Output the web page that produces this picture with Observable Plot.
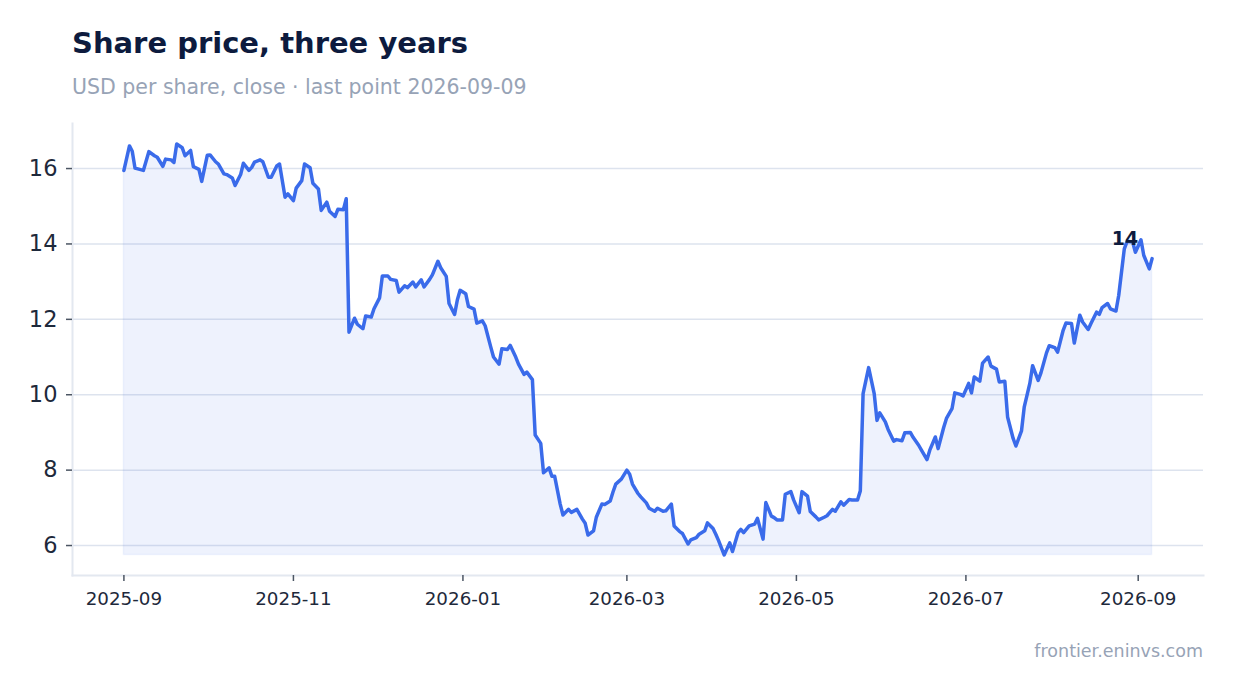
<!DOCTYPE html>
<html>
<head>
<meta charset="utf-8">
<script src="https://cdn.jsdelivr.net/npm/d3@7"></script>
<script src="https://cdn.jsdelivr.net/npm/@observablehq/plot@0.6"></script>
<style>
  html, body { margin: 0; padding: 0; background: #ffffff; }
  body { width: 1234px; height: 693px; position: relative; overflow: hidden; font-family: "DejaVu Sans", sans-serif; }
  #title { position: absolute; left: 72px; top: 29px; font-size: 29px; line-height: 1; font-weight: bold; color: #0d1b3e; white-space: nowrap; }
  #subtitle { position: absolute; left: 72px; top: 77px; font-size: 20.5px; line-height: 1; color: #97a3b6; white-space: nowrap; }
  #chart { position: absolute; left: 0; top: 100px; }
  #caption { position: absolute; right: 31px; top: 643px; font-size: 17.5px; line-height: 1; color: #97a3b6; white-space: nowrap; }
</style>
</head>
<body>
<div id="title">Share price, three years</div>
<div id="subtitle">USD per share, close · last point 2026-09-09</div>
<div id="chart"></div>
<div id="caption">frontier.eninvs.com</div>
<script>
const dates = [
  "2025-09-01","2025-09-03","2025-09-04","2025-09-05","2025-09-07","2025-09-08","2025-09-10","2025-09-12","2025-09-13","2025-09-15",
  "2025-09-16","2025-09-18","2025-09-19","2025-09-20","2025-09-22","2025-09-23","2025-09-25","2025-09-26","2025-09-28","2025-09-29",
  "2025-10-01","2025-10-02","2025-10-04","2025-10-05","2025-10-07","2025-10-08","2025-10-10","2025-10-11","2025-10-13","2025-10-14",
  "2025-10-16","2025-10-17","2025-10-18","2025-10-20","2025-10-21","2025-10-23","2025-10-24","2025-10-26","2025-10-27","2025-10-29","2025-10-30",
  "2025-11-01","2025-11-02","2025-11-04","2025-11-05","2025-11-07","2025-11-08","2025-11-10","2025-11-11","2025-11-13","2025-11-14",
  "2025-11-16","2025-11-17","2025-11-19","2025-11-20","2025-11-21","2025-11-23","2025-11-24","2025-11-26","2025-11-27","2025-11-29","2025-11-30",
  "2025-12-02","2025-12-03","2025-12-05","2025-12-06","2025-12-08","2025-12-09","2025-12-11","2025-12-12","2025-12-14","2025-12-15",
  "2025-12-17","2025-12-18","2025-12-20","2025-12-21","2025-12-23","2025-12-24","2025-12-26","2025-12-27","2025-12-29","2025-12-30","2025-12-31",
  "2026-01-02","2026-01-03","2026-01-05","2026-01-06","2026-01-08","2026-01-09","2026-01-11","2026-01-12","2026-01-14","2026-01-15",
  "2026-01-17","2026-01-18","2026-01-20","2026-01-21","2026-01-23","2026-01-24","2026-01-26","2026-01-27","2026-01-29","2026-01-30",
  "2026-02-01","2026-02-02","2026-02-03","2026-02-05","2026-02-06","2026-02-08","2026-02-09","2026-02-11","2026-02-13","2026-02-14",
  "2026-02-15","2026-02-17","2026-02-18","2026-02-20","2026-02-21","2026-02-23","2026-02-24","2026-02-25","2026-02-27",
  "2026-03-01","2026-03-02","2026-03-03","2026-03-05","2026-03-06","2026-03-08","2026-03-09","2026-03-11","2026-03-12","2026-03-14",
  "2026-03-15","2026-03-17","2026-03-18","2026-03-20","2026-03-21","2026-03-23","2026-03-24","2026-03-26","2026-03-27","2026-03-29","2026-03-30",
  "2026-04-01","2026-04-02","2026-04-03","2026-04-05","2026-04-07","2026-04-08","2026-04-10","2026-04-11","2026-04-12","2026-04-14",
  "2026-04-16","2026-04-17","2026-04-19","2026-04-20","2026-04-22","2026-04-23","2026-04-24","2026-04-26","2026-04-27","2026-04-29","2026-04-30",
  "2026-05-02","2026-05-03","2026-05-05","2026-05-06","2026-05-08","2026-05-09","2026-05-11","2026-05-12","2026-05-14","2026-05-15",
  "2026-05-17","2026-05-18","2026-05-20","2026-05-21","2026-05-23","2026-05-24","2026-05-25","2026-05-27","2026-05-29","2026-05-30","2026-05-31",
  "2026-06-02","2026-06-03","2026-06-05","2026-06-06","2026-06-08","2026-06-09","2026-06-11","2026-06-12","2026-06-14","2026-06-15",
  "2026-06-17","2026-06-18","2026-06-20","2026-06-21","2026-06-23","2026-06-24","2026-06-26","2026-06-27","2026-06-29","2026-06-30",
  "2026-07-02","2026-07-03","2026-07-04","2026-07-06","2026-07-07","2026-07-09","2026-07-10","2026-07-12","2026-07-13","2026-07-15",
  "2026-07-16","2026-07-18","2026-07-19","2026-07-21","2026-07-22","2026-07-24","2026-07-25","2026-07-27","2026-07-28","2026-07-30","2026-07-31",
  "2026-08-02","2026-08-03","2026-08-05","2026-08-06","2026-08-08","2026-08-09","2026-08-11","2026-08-12","2026-08-14","2026-08-15",
  "2026-08-17","2026-08-18","2026-08-19","2026-08-21","2026-08-22","2026-08-24","2026-08-25","2026-08-27","2026-08-28","2026-08-30","2026-08-31",
  "2026-09-02","2026-09-03","2026-09-05","2026-09-06"
];

const closes = [
  15.95,16.60,16.46,16.01,15.97,15.95,16.45,16.34,16.30,16.06,
  16.25,16.23,16.16,16.65,16.55,16.34,16.48,16.05,15.98,15.66,
  16.35,16.36,16.18,16.12,15.86,15.84,15.75,15.55,15.84,16.14,
  15.95,16.03,16.17,16.23,16.18,15.77,15.77,16.07,16.12,15.24,
  15.33,15.15,15.48,15.68,16.12,16.02,15.61,15.46,14.89,15.11,
  14.87,14.73,14.92,14.91,15.20,11.66,12.03,11.87,11.75,12.09,
  12.06,12.28,12.57,13.15,13.15,13.06,13.03,12.72,12.89,12.84,
  12.99,12.86,13.05,12.86,13.06,13.18,13.54,13.37,13.14,12.42,
  12.13,12.52,12.77,12.68,12.34,12.27,11.90,11.96,11.83,11.27,
  11.00,10.81,11.22,11.20,11.31,11.00,10.81,10.54,10.60,10.40,
  8.93,8.71,7.93,8.06,7.84,7.84,7.10,6.81,6.96,6.88,
  6.96,6.70,6.59,6.28,6.39,6.75,7.10,7.09,7.18,7.42,
  7.63,7.76,8.00,7.89,7.63,7.38,7.29,7.13,6.99,6.91,
  6.99,6.91,6.92,7.10,6.52,6.37,6.32,6.04,6.15,6.21,
  6.30,6.39,6.60,6.45,6.30,6.13,5.75,6.07,5.84,6.34,
  6.43,6.34,6.52,6.57,6.72,6.17,7.14,6.78,6.74,6.68,
  6.68,7.36,7.43,7.21,6.87,7.43,7.31,6.90,6.76,6.68,
  6.75,6.79,6.96,6.91,7.16,7.07,7.22,7.21,7.21,7.45,
  10.03,10.72,10.03,9.32,9.52,9.28,9.08,8.77,8.81,8.78,
  8.99,9.00,8.87,8.66,8.53,8.28,8.53,8.88,8.57,9.13,
  9.37,9.63,10.05,10.01,9.97,10.30,10.05,10.47,10.36,10.84,
  11.00,10.76,10.68,10.34,10.36,9.41,8.84,8.64,9.04,9.68,
  10.30,10.77,10.38,10.58,11.11,11.30,11.25,11.13,11.71,11.90,
  11.89,11.37,12.11,11.93,11.73,11.89,12.19,12.13,12.31,12.42,
  12.28,12.22,12.64,13.87,14.07,14.05,13.78,14.11,13.70,13.34,
  13.61
];

const yTicks = [6, 8, 10, 12, 14, 16];
const xTickLabels = ["2025-09", "2025-11", "2026-01", "2026-03", "2026-05", "2026-07", "2026-09"];

const parse = d3.utcParse("%Y-%m-%d");
const data = dates.map((d, i) => ({date: parse(d), close: closes[i]}));
const xTicks = xTickLabels.map(d => d3.utcParse("%Y-%m")(d));

const t0 = data[0].date, t1 = data[data.length - 1].date;
const span = t1 - t0;
const xDomain = [new Date(+t0 - span * 0.05), new Date(+t1 + span * 0.05)];
const vMin = d3.min(closes), vMax = d3.max(closes);
const vPad = (vMax - vMin) * 0.05;
const yDomain = [vMin - vPad, vMax + vPad];
const last = data[data.length - 1];

const lineColor = "#3a6bea";

const chart = Plot.plot({
  width: 1234,
  height: 515,
  marginLeft: 72,
  marginRight: 31,
  marginTop: 23,
  marginBottom: 40,
  style: {fontFamily: "DejaVu Sans", background: "transparent"},
  x: {type: "utc", domain: xDomain, label: null},
  y: {domain: yDomain, label: null},
  marks: [
    Plot.gridY(yTicks, {stroke: "#dde3ee", strokeOpacity: 1, strokeWidth: 1.5}),
    Plot.frame({anchor: "left", stroke: "#e3e8f0", strokeWidth: 2}),
    Plot.frame({anchor: "bottom", stroke: "#e3e8f0", strokeWidth: 2}),
    Plot.areaY(data, {x: "date", y1: vMin, y2: "close", fill: lineColor, fillOpacity: 0.085, stroke: lineColor, strokeOpacity: 0.06, strokeWidth: 1.5}),
    Plot.lineY(data, {x: "date", y: "close", stroke: lineColor, strokeWidth: 3.5, strokeLinejoin: "round", strokeLinecap: "round"}),
    Plot.axisY({ticks: yTicks, tickSize: 6, tickPadding: 9, fontSize: 22.5, stroke: "#4b5563", strokeWidth: 1.5, fill: "#1e293b", label: null}),
    Plot.axisX({ticks: xTicks, tickFormat: d3.utcFormat("%Y-%m"), tickSize: 6, tickPadding: 10, fontSize: 18.3, stroke: "#4b5563", strokeWidth: 1.5, fill: "#1e293b", label: null}),
    Plot.text([last], {x: "date", y: "close", text: d => d3.format(".0f")(d.close), dx: -27, dy: -20, fontSize: 19, fontWeight: "bold", fill: "#0d1b3e"})
  ]
});
document.getElementById("chart").appendChild(chart);
</script>
</body>
</html>
